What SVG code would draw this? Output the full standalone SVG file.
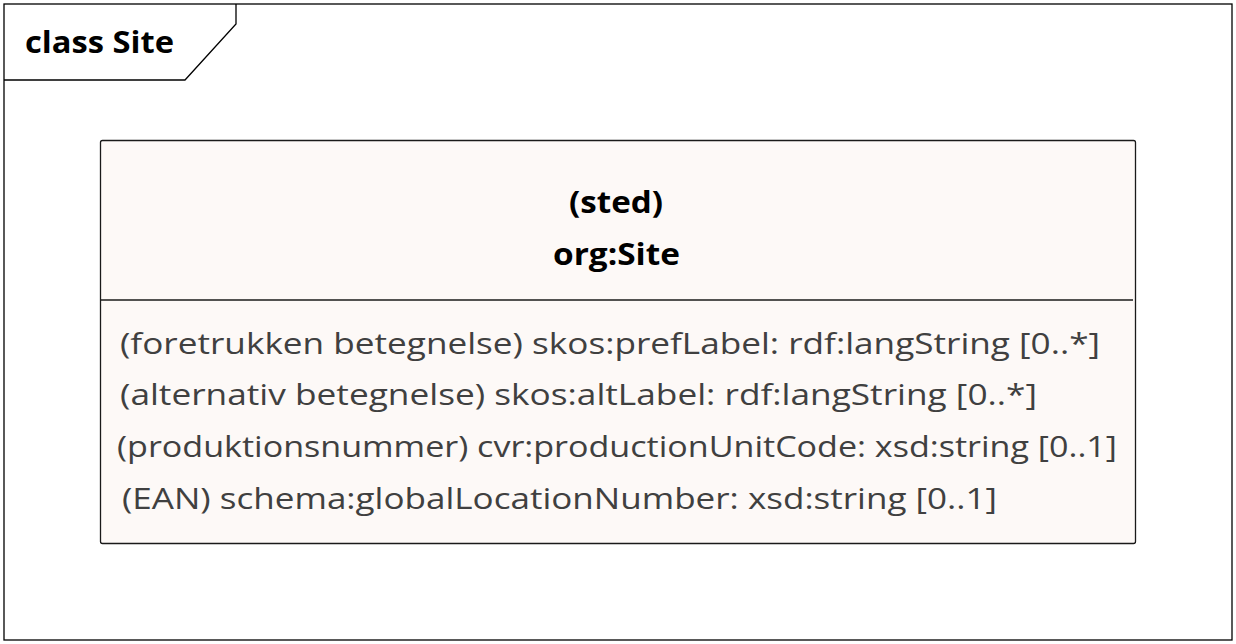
<svg xmlns="http://www.w3.org/2000/svg" width="1236" height="644" viewBox="0 0 1236 644">
<style>
.frame{fill:#ffffff;stroke:#000000;stroke-width:1.3}
.box{fill:#FDF9F7;stroke:#1a1a1a;stroke-width:1.3}
.title{font-family:"Open Sans","Liberation Sans",sans-serif;font-weight:bold;font-size:31px;fill:#000000}
.head{font-family:"Open Sans","Liberation Sans",sans-serif;font-weight:bold;font-size:30px;fill:#000000}
.attr{font-family:"Open Sans","Liberation Sans",sans-serif;font-size:30px;fill:#404040}
</style>
<rect width="1236" height="644" fill="#ffffff"/>
<g id="frame">
<rect class="frame" x="4" y="4" width="1228" height="636"/>
<path d="M4 80 H185 L236 24 V4" fill="none" stroke="#000" stroke-width="1.3"/>
<text class="title" x="25" y="53" textLength="149" lengthAdjust="spacingAndGlyphs">class Site</text>
</g>
<g id="connectors"></g>
<g id="org_Site">
<rect class="box" x="100.5" y="140.5" width="1035" height="403" rx="2"/>
<line x1="101" y1="300" x2="1133" y2="300" stroke="#1a1a1a" stroke-width="1.3"/>
<text class="head" x="616" y="213" text-anchor="middle" textLength="94" lengthAdjust="spacingAndGlyphs">(sted)</text>
<text class="head" x="616.5" y="265" text-anchor="middle" textLength="127" lengthAdjust="spacingAndGlyphs">org:Site</text>
<text class="attr" x="120" y="354" textLength="980" lengthAdjust="spacingAndGlyphs">(foretrukken betegnelse) skos:prefLabel: rdf:langString [0..*]</text>
<text class="attr" x="120" y="405" textLength="917" lengthAdjust="spacingAndGlyphs">(alternativ betegnelse) skos:altLabel: rdf:langString [0..*]</text>
<text class="attr" x="117" y="457" textLength="1000" lengthAdjust="spacingAndGlyphs">(produktionsnummer) cvr:productionUnitCode: xsd:string [0..1]</text>
<text class="attr" x="122" y="509" textLength="875" lengthAdjust="spacingAndGlyphs">(EAN) schema:globalLocationNumber: xsd:string [0..1]</text>
</g>
</svg>
